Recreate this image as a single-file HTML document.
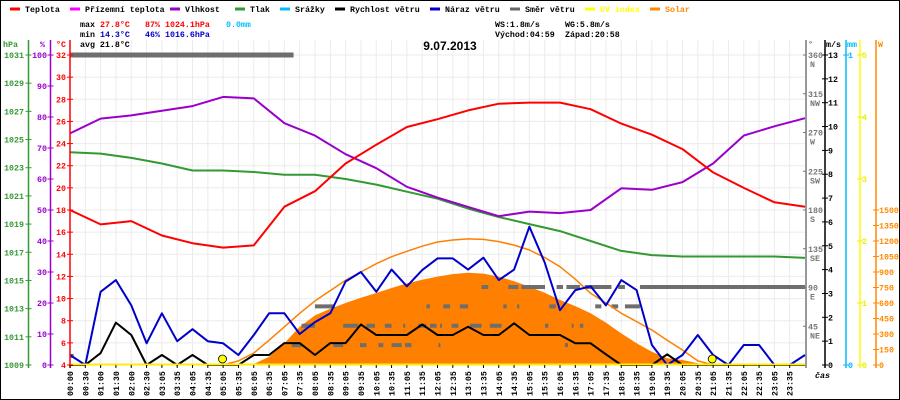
<!DOCTYPE html>
<html><head><meta charset="utf-8"><style>
html,body{margin:0;padding:0;background:#fff;}
svg{display:block;font-family:"Liberation Mono",monospace;}
</style></head><body>
<svg id="chart" width="900" height="400" viewBox="0 0 900 400" xmlns="http://www.w3.org/2000/svg">
<rect x="0.5" y="0.5" width="899" height="399" fill="#fff" stroke="#000"/>
<g id="grid"></g>
<g id="legend" font-size="8.3" font-weight="bold"></g>
<g font-size="8.3" font-weight="bold">
<text x="80" y="27">max</text>
<text x="100" y="27" fill="#f00">27.8°C</text>
<text x="145" y="27" fill="#f00">87%</text>
<text x="165" y="27" fill="#f00">1024.1hPa</text>
<text x="226" y="27" fill="#00bfff">0.0mm</text>
<text x="80" y="37">min</text>
<text x="100" y="37" fill="#00c">14.3°C</text>
<text x="145" y="37" fill="#00c">46%</text>
<text x="165" y="37" fill="#00c">1016.6hPa</text>
<text x="80" y="47">avg 21.8°C</text>
<text x="495" y="27">WS:1.8m/s</text>
<text x="565" y="27">WG:5.8m/s</text>
<text x="495" y="37">Východ:04:59</text>
<text x="565" y="37">Západ:20:58</text>
</g>
<text x="450" y="50" text-anchor="middle" font-family="Liberation Sans, sans-serif" font-size="12" font-weight="bold">9.07.2013</text>
<g id="series"></g>
<g id="axes" font-size="8.3" font-weight="bold"></g>
</svg>
<script>
const hours=[0,1,2,3,4,5,6,7,8,9,10,11,12,13,14,15,16,17,18,19,20,21,22,23,24];
const tempVals=[18.0,16.7,17.0,15.7,15.0,14.6,14.8,18.3,19.7,22.2,23.9,25.5,26.2,27.0,27.6,27.7,27.7,27.1,25.8,24.8,23.5,21.4,20.0,18.7,18.3];
const humVals=[74.7,79.5,80.5,82,83.5,86.5,86,78,74,68,63.5,57.5,54,51,48,49.5,49,50,57,56.5,59,65,74,77,79.6];
const pressVals=[1024.1,1024.0,1023.7,1023.3,1022.8,1022.8,1022.7,1022.5,1022.5,1022.2,1021.8,1021.3,1020.8,1020.1,1019.5,1019.0,1018.5,1017.8,1017.1,1016.8,1016.7,1016.7,1016.7,1016.7,1016.6];
const halfHours=[0,0.5,1,1.5,2,2.5,3,3.5,4,4.5,5,5.5,6,6.5,7,7.5,8,8.5,9,9.5,10,10.5,11,11.5,12,12.5,13,13.5,14,14.5,15,15.5,16,16.5,17,17.5,18,18.5,19,19.5,20,20.5,21,21.5,22,22.5,23,23.5,24];
const windVals=[0,0,0.5,1.78,1.26,0,0.42,0,0.42,0,0,0,0.42,0.42,0.92,0.92,0.42,0.92,0.92,1.7,1.26,1.26,1.26,1.7,1.26,1.26,1.6,1.26,1.26,1.75,1.26,1.26,1.26,0.91,0.91,0.45,0,0,0,0.45,0,0,0,0,0,0,0,0,0];
const gustVals=[0.42,0,3.07,3.56,2.5,0.91,2.17,1.0,1.5,1.0,0.91,0.42,1.26,2.17,2.17,1.3,1.8,2.17,3.5,3.9,3.07,4.0,3.3,3.98,4.47,4.47,4.0,4.5,3.56,4.0,5.8,4.3,2.3,3.14,3.3,2.5,3.56,3.14,0.84,0,0.42,1.26,0.42,0,0.84,0.84,0,0,0.42];
const solarVals=[0,0,0,0,0,0,0,0,0,0,0,2,10,80,210,370,480,545,600,650,697,745,790,825,855,880,893,885,855,810,758,700,629,570,500,410,306,210,129,65,48,16,0,0,0,0,0,0,0];
const solarMaxVals=[null,null,null,null,null,null,null,null,null,null,0,40,116,240,370,500,620,720,820,900,980,1048,1100,1150,1190,1210,1220,1215,1194,1160,1113,1040,951,830,694,600,500,420,339,240,145,40,0,null,null,null,null,null,null];
const dirStart=[0,0,7.24,7.56,8.0,8.6,8.92,9.47,9.68,10.07,10.28,10.5,10.88,10.94,11.37,11.64,11.75,12.03,12.08,12.19,12.46,12.73,13.06,13.44,13.71,14.15,14.31,14.6,14.74,15.51,15.65,15.89,16.16,16.21,16.38,16.65,16.81,17.15,17.68,17.9,18.12,18.61];
const dirEnd=[7.3,0.12,7.56,8.0,8.65,8.92,9.41,9.68,9.96,10.23,10.5,10.83,10.94,11.15,11.64,11.75,11.97,12.08,12.13,12.41,12.68,13.0,13.44,13.66,14.09,14.26,14.64,14.67,15.51,15.62,15.86,16.1,16.26,16.65,16.43,16.76,17.68,17.35,17.9,18.12,18.61,24];
const dirDeg=[360,10,22.5,45,67.5,22.5,45,22.5,45,22.5,45,22.5,45,22.5,45,67.5,45,22.5,45,67.5,45,67.5,45,90,45,67.5,90,67.5,90,45,67.5,90,22.5,90,45,45,90,67.5,67.5,90,67.5,90];
const uvMarkHours=[4.98,20.97];
const timeLabels=["00:00","00:30","01:00","01:30","02:00","02:30"];
for(let h=3;h<24;h++){const hh=(h<10?"0":"")+h;timeLabels.push(hh+":05");timeLabels.push(hh+":35");}
const tempTicks=[4,6,8,10,12,14,16,18,20,22,24,26,28,30,32];
const humTicks=[0,10,20,30,40,50,60,70,80,90,100];
const pressTicks=[1009,1011,1013,1015,1017,1019,1021,1023,1025,1027,1029,1031];
const windTicks=[0,1,2,3,4,5,6,7,8,9,10,11,12,13];
const uvTicks=[0,1,2,3,4,5];
const solarTicks=[0,150,300,450,600,750,900,1050,1200,1350,1500];
const dirTicks=[45,90,135,180,225,270,315,360];
const dirNames=["NE","E","SE","S","SW","W","NW","N"];

const NS="http://www.w3.org/2000/svg";
const X0=70,X1=805,Y0=55,Y1=365;
const x=t=>X0+t*(X1-X0)/24;
const yT=v=>Y0+(32-v)*(Y1-Y0)/28;
const yH=v=>Y1-v*(Y1-Y0)/100;
const yP=v=>Y0+(1031-v)*(Y1-Y0)/22;
const yW=v=>Y1-v*(Y1-Y0)/13;
const yU=v=>Y1-v*(Y1-Y0)/5;
const yS=v=>Y1-v*155/1500;
const yD=v=>Y1-v*(Y1-Y0)/360;
function mk(tag,attrs,parent,txt){const e=document.createElementNS(NS,tag);for(const k in attrs)e.setAttribute(k,attrs[k]);if(txt!==undefined)e.textContent=txt;parent.appendChild(e);return e;}
const grid=document.getElementById('grid'),ser=document.getElementById('series'),ax=document.getElementById('axes'),leg=document.getElementById('legend');

for(let i=0;i<48;i++){const gx=x(i*0.5);const l=mk('line',{x1:gx,y1:40,x2:gx,y2:Y1,stroke:'#ebebeb','stroke-width':1},grid);

}
tempTicks.forEach(v=>{const l=mk('line',{x1:X0,y1:yT(v),x2:X1,y2:yT(v),stroke:'#ebebeb','stroke-width':1},grid);

});

const legNames=["Teplota","Přízemní teplota","Vlhkost","Tlak","Srážky","Rychlost větru","Náraz větru","Směr větru","UV index","Solar"];
const legColors=["#f00","#f0f","#90c","#393","#0bf","#000","#00c","#666","#ff0","#f80"];
const legX=[10,70,170,235,280,335,430,510,585,650];
legNames.forEach((n,i)=>{
const d=mk('line',{x1:legX[i],y1:9,x2:legX[i]+10,y2:9,stroke:legColors[i],'stroke-width':3},leg);


const t=mk('text',{x:legX[i]+15,y:12,fill:(i>=8?legColors[i]:'#000')},leg,n);

});

function line(xs,ys,fx,fy,color,w,name){let d='';let pen=false;
xs.forEach((t,i)=>{const v=ys[i];if(v===null){pen=false;return;}d+=(pen?'L':'M')+x(t).toFixed(1)+' '+fy(v).toFixed(1)+' ';pen=true;});
const p=mk('path',{d:d,fill:'none',stroke:color,'stroke-width':w,'stroke-linejoin':'round'},ser);

return p;}

let sd='M'+x(halfHours[0])+' '+Y1+' ';halfHours.forEach((t,i)=>{sd+='L'+x(t).toFixed(1)+' '+yS(solarVals[i]).toFixed(1)+' ';});sd+='L'+x(24)+' '+Y1+'Z';
const sf=mk('path',{d:sd,fill:'#ff8000',stroke:'none'},ser);



dirDeg.forEach((d,i)=>{const r=mk('rect',{x:x(dirStart[i]),y:yD(d)-2.5,width:Math.max(2,x(dirEnd[i])-x(dirStart[i])),height:(i===0?5:4),fill:'#6e6e6e'},ser);

});

line(halfHours,solarMaxVals,x,yS,'#ff8000',1.5,'solar-max-line');
line(hours,pressVals,x,yP,'#339933',2,'pressure-line');
line(hours,humVals,x,yH,'#9900cc',2,'humidity-line');
line(hours,tempVals,x,yT,'#ff0000',2,'temperature-line');
line(halfHours,gustVals,x,yW,'#0000cc',2,'wind-gust-line');
line(halfHours,windVals,x,yW,'#000000',2,'wind-speed-line');
const uvl=mk('line',{x1:X0,y1:Y1-0.5,x2:X1,y2:Y1-0.5,stroke:'#ffee00','stroke-width':2},ser);


uvMarkHours.forEach(t=>{const c=mk('circle',{cx:x(t),cy:Y1-6,r:4,fill:'#ff0',stroke:'#000','stroke-width':0.8},ser);

});

function vaxis(ax0,color,name){const l=mk('line',{x1:ax0,y1:40,x2:ax0,y2:Y1+3,stroke:color,'stroke-width':1.5},ax);

}
vaxis(28.5,'#339933','pressure-axis');vaxis(50.5,'#9900cc','humidity-axis');vaxis(70,'#ff0000','temperature-axis');
vaxis(806,'#777','direction-axis');vaxis(825,'#000','wind-axis');vaxis(846,'#0bf','rain-axis');vaxis(860,'#ff0','uv-axis');vaxis(876,'#f80','solar-axis');
function ticks(vals,fy,ax0,color,lx,anchor,name){vals.forEach(v=>{const yy=fy(v);
const t=mk('line',{x1:ax0-3,y1:yy,x2:ax0+3,y2:yy,stroke:color,'stroke-width':1},ax);


const tx=mk('text',{x:lx,y:yy+3,fill:color,'text-anchor':anchor},ax,String(v));

});}
ticks(pressTicks,yP,28.5,'#339933',24,'end','pressure');
ticks(humTicks,yH,50.5,'#9900cc',47,'end','humidity');
ticks(tempTicks,yT,70,'#ff0000',66,'end','temperature');
ticks(windTicks,yW,825,'#000',828,'start','wind');
ticks(uvTicks,yU,860,'#ee0',862,'start','uv');
ticks(solarTicks,yS,876,'#f80',879,'start','solar');
ticks([0,1],v=>Y1-v*(Y1-Y0),846,'#0bf',848,'start','rain');
dirTicks.forEach((v,i)=>{const yy=yD(v);
const t=mk('line',{x1:803,y1:yy,x2:806,y2:yy,stroke:'#777'},ax);


const a=mk('text',{x:808,y:yy+3,fill:'#777'},ax,String(v));


const b=mk('text',{x:810,y:yy+12,fill:'#777'},ax,dirNames[i]);

});
[['hPa',3,'#339933'],['%',40,'#9900cc'],['°C',56,'#f00'],['°',808,'#777'],['m/s',826,'#000'],['mm',847,'#0bf'],['W',878,'#f80']].forEach(u=>{
const t=mk('text',{x:u[1],y:47,fill:u[2]},ax,u[0]);

});
timeLabels.forEach((s,i)=>{const tx=x(i*0.5);
const tk=mk('line',{x1:tx,y1:Y1,x2:tx,y2:Y1+3,stroke:'#000'},ax);


const t=mk('text',{x:0,y:0,transform:'translate('+(tx+3)+',396) rotate(-90)'},ax,s);

});
const cas=mk('text',{x:815,y:378,'font-style':'italic'},ax,'čas');


</script>
</body></html>
